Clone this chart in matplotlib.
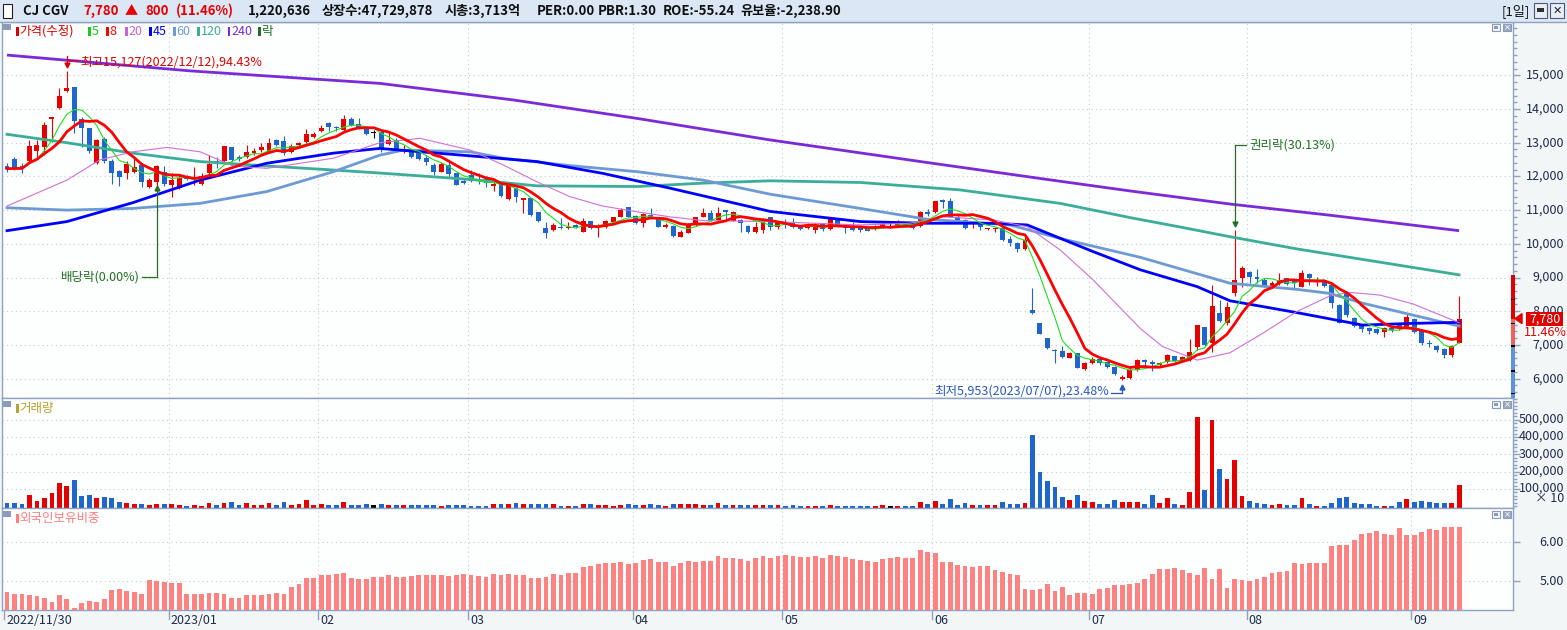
import numpy as np
import pandas as pd
import matplotlib
matplotlib.use("Agg")
import matplotlib.pyplot as plt
import matplotlib.transforms as mtransforms
from matplotlib.patches import Rectangle, Polygon
from matplotlib.ticker import MultipleLocator, FixedLocator

plt.rcParams['font.family'] = ['Noto Sans CJK KR', 'DejaVu Sans']

# ---------------- data ----------------
opens = [12320,12530,12320,12470,12760,12880,13700,14040,14520,14660,
         13700,13450,12410,13110,12470,12170,12090,12140,12340,11690,
         11840,12120,11740,11670,11990,11890,11770,12090,12470,12470,
         12860,12590,12570,12680,12780,12730,13080,13060,12730,12930,
         13030,13180,13360,13580,13460,13380,13710,13560,13460,13280,
         13330,12950,13080,12750,12730,12700,12540,12340,12140,12340,
         12090,11860,12040,11910,11920,11720,11790,11320,11650,11310,
         11350,10930,10460,10410,10500,10460,10560,10360,10680,10510,
         10490,10660,10810,11080,10830,10630,10860,10790,10510,10530,
         10210,10330,10560,10810,10900,10710,11000,10690,10710,10530,
         10360,10410,10790,10510,10610,10630,10530,10460,10410,10590,
         10430,10730,10510,10530,10510,10480,10430,10510,10610,10530,
         10610,10560,10530,10950,10930,11300,11280,10810,10710,10580,
         10610,10430,10430,10460,10140,10030,9840,8040,7640,7200,
         6850,6820,6620,6770,6280,6470,6570,6500,6360,6000,
         6010,6260,6550,6480,6400,6500,6670,6500,6550,6930,
         7520,7050,7960,7640,8550,8980,9170,9030,8930,8710,
         8830,8980,8880,8730,9100,8870,8930,8780,8180,8560,
         7790,7590,7490,7460,7390,7490,7590,7520,7770,7440,
         7070,6970,6880,6700,7070]
highs = [12390,12590,12410,13080,13080,13600,13760,14620,15127,14660,
         13750,13450,13100,13180,12510,12190,12460,12560,12410,11940,
         12340,12310,12090,12070,12040,12270,12090,12650,12590,12900,
         12880,12650,12930,12850,12980,13130,13110,13210,12960,13030,
         13400,13330,13530,13600,13510,13820,13750,13720,13500,13380,
         13380,13280,13130,12930,12780,12730,12640,12390,12440,12440,
         12110,11940,12190,12090,12010,11840,11840,11810,11680,11360,
         11370,10950,10660,10630,10760,10660,10580,10760,10680,10580,
         10710,10810,11050,11100,10860,10900,11070,10810,10630,10560,
         10410,10630,10810,11050,11000,11100,11000,10970,10730,10560,
         10640,10760,10810,10660,10730,10760,10560,10610,10610,10630,
         10760,10740,10560,10660,10530,10510,10560,10630,10680,10710,
         10630,10590,10970,11020,11280,11320,11350,10860,10730,10630,
         10630,10480,10510,10510,10230,10060,10210,8700,7640,7200,
         6870,6970,6800,6770,6500,6630,6620,6500,6380,6100,
         6310,6570,6570,6550,6500,6720,6670,6670,7180,7590,
         7540,8780,8330,8280,10410,9350,9200,9240,8980,8910,
         9140,9000,8980,9220,9120,9030,8950,8830,8210,8610,
         7820,7620,7540,7490,7540,7540,7640,7920,7790,7440,
         7150,6990,6900,7000,8460]
lows = [12120,12190,12110,12390,12590,12630,13030,13990,14500,13300,
        12880,12700,12370,12410,11770,11710,11910,12110,11690,11670,
        11690,11720,11400,11640,11890,11740,11740,12040,12240,12440,
        12470,12470,12540,12630,12730,12700,12900,12630,12700,12900,
        13000,13130,13310,13360,13360,13330,13500,13400,13230,13130,
        12730,12930,12710,12690,12560,12490,12340,12040,12120,11990,
        11740,11770,11840,11770,11680,11580,11380,11300,11250,10900,
        10820,10660,10160,10390,10440,10440,10460,10340,10440,10210,
        10470,10640,10790,10790,10590,10490,10760,10490,10460,10210,
        10190,10310,10530,10790,10690,10690,10710,10670,10360,10330,
        10330,10310,10410,10430,10460,10460,10410,10430,10310,10390,
        10410,10490,10310,10390,10360,10380,10410,10460,10510,10510,
        10530,10440,10510,10830,10910,11070,10790,10660,10430,10460,
        10410,10410,10360,10090,9950,9750,9820,7920,7310,6870,
        6470,6600,6600,6310,6260,6430,6400,6310,6110,5953,
        5980,6240,6360,6240,6340,6470,6500,6480,6530,6850,
        6970,6800,7690,7590,8460,8730,8850,8830,8710,8680,
        8780,8780,8680,8710,8780,8750,8710,8090,7640,7840,
        7540,7390,7320,7320,7230,7390,7440,7490,7340,7000,
        6950,6800,6600,6650,7050]
closes = [12230,12240,12240,12900,12930,13530,13750,14390,14620,13640,
          13430,12760,13080,12470,12090,11970,12370,12290,11840,11890,
          12310,11770,11890,11940,11910,11990,12010,12370,12410,12900,
          12490,12510,12720,12760,12860,12980,12930,12700,12900,13000,
          13260,13260,13450,13480,13430,13690,13530,13430,13260,13280,
          12830,13080,12730,12800,12590,12520,12440,12120,12360,12070,
          11740,11790,11870,11890,11810,11770,11420,11790,11400,11350,
          10850,10690,10330,10560,10460,10510,10490,10680,10460,10560,
          10680,10790,11000,10810,10610,10880,10790,10510,10560,10230,
          10360,10590,10810,10900,10710,10920,10930,10950,10630,10360,
          10510,10710,10510,10610,10580,10490,10430,10560,10510,10430,
          10730,10510,10470,10410,10410,10390,10530,10580,10610,10660,
          10560,10460,10950,10880,11270,11250,10810,10690,10460,10630,
          10510,10460,10460,10110,10010,9840,10110,7940,7310,6900,
          6820,6650,6770,6330,6470,6570,6470,6340,6140,6060,
          6260,6550,6480,6420,6470,6700,6520,6650,6800,7590,
          7000,8150,7720,8130,8930,9270,9010,8950,8730,8850,
          8930,8810,8850,9120,8980,8890,8750,8250,7660,7890,
          7560,7460,7420,7360,7490,7440,7490,7820,7370,7050,
          7030,6850,6700,6980,7780]

volume_x10 = [19000,19000,13000,65000,29000,48000,77000,134000,117000,152000,
              59000,65000,48000,54000,48000,25000,19000,13000,13000,7500,
              13000,13000,13000,7500,2000,7500,2000,19000,7500,19000,
              25000,7500,19000,7500,7500,19000,7500,25000,7500,13000,
              36000,7500,13000,7500,7500,25000,7500,7500,13000,7500,
              13000,7500,7500,7500,7500,7500,7500,7500,2000,7500,
              7500,7500,2000,2000,2000,13000,13000,13000,19000,13000,
              13000,13000,13000,13000,2000,2000,2000,13000,13000,7500,
              7500,2000,7500,13000,7500,7500,13000,7500,2000,13000,
              13000,13000,13000,7500,7500,19000,7500,7500,7500,7500,
              7500,7500,7500,7500,2000,7500,500,2000,2000,2000,
              7500,2000,2000,2000,2000,2000,2000,7500,2000,2000,
              2000,500,25000,13000,30600,13000,42000,7500,19000,7500,
              7500,7500,7500,25000,13000,13000,19000,411000,198000,146000,
              111000,54000,36000,65000,30600,25000,13000,13000,36000,25000,
              25000,25000,13000,65000,19000,48000,13000,7500,82000,515000,
              94000,498000,215000,157000,267000,59000,30600,19000,13000,7500,
              13000,7500,7500,48000,13000,2000,2000,19000,48000,54000,
              19000,13000,13000,2000,2000,2000,25000,42000,25000,30600,
              25000,19000,19000,19000,122064]

foreign_pct = [4.735,4.675,4.675,4.64,4.615,4.57,4.47,4.65,4.55,4.32,
               4.44,4.50,4.48,4.55,4.78,4.80,4.75,4.735,4.675,5.03,
               5.01,4.98,4.96,4.96,4.675,4.675,4.675,4.70,4.70,4.675,
               4.57,4.57,4.65,4.65,4.65,4.675,4.70,4.675,4.855,4.93,
               5.085,5.085,5.16,5.17,5.19,5.21,5.085,5.06,5.06,5.11,
               5.11,5.16,5.11,5.11,5.14,5.16,5.16,5.16,5.16,5.14,
               5.16,5.19,5.16,5.14,5.11,5.19,5.16,5.19,5.16,5.16,
               5.085,5.085,5.11,5.19,5.16,5.21,5.21,5.37,5.39,5.45,
               5.48,5.48,5.50,5.45,5.48,5.55,5.57,5.50,5.50,5.39,
               5.48,5.52,5.50,5.52,5.52,5.65,5.60,5.60,5.57,5.52,
               5.60,5.65,5.60,5.65,5.675,5.65,5.62,5.62,5.65,5.60,
               5.675,5.65,5.62,5.57,5.55,5.52,5.50,5.57,5.60,5.62,
               5.60,5.60,5.80,5.75,5.73,5.50,5.50,5.42,5.39,5.37,
               5.39,5.39,5.29,5.24,5.19,5.16,4.80,4.78,4.80,4.93,
               4.75,4.855,4.65,4.70,4.70,4.675,4.80,4.83,4.91,4.91,
               4.93,4.96,5.06,5.19,5.32,5.32,5.34,5.29,5.21,5.16,
               5.34,5.06,5.32,4.83,5.06,5.03,5.01,5.06,5.11,5.21,
               5.24,5.265,5.47,5.44,5.47,5.47,5.47,5.905,5.93,5.93,
               6.06,6.21,6.24,6.29,6.21,6.19,6.37,6.19,6.19,6.265,
               6.34,6.32,6.39,6.39,6.39]

# moving averages that need history before the window: read at sample points
ma20_idx = [0,8,12.4,16.8,21.4,25.8,30.2,34.7,43.6,49.8,55.2,61.9,66.3,70.8,75.2,79.6,84.2,88.6,93,102,
            114,120.6,125,131.7,136.3,140.7,145.1,151.4,154.4,159,163.4,167.8,172.3,176.7,179.3,183.4,187.8,194]
ma20_val = [11120,11890,12490,12730,12860,12730,12310,12240,12540,13000,13130,12780,12340,11840,11400,11120,10950,10800,10690,10660,
            10560,10610,10800,10710,10510,9820,8930,7490,6950,6550,6770,7350,7990,8450,8560,8480,8220,7660]
ma45_idx = [0,8,16.8,25.8,34.7,43.6,49.8,61.9,70.8,79.6,88.6,102,114,122.9,131.7,136.3,145.1,151.4,159,163.4,172.3,181.1,187.8,194]
ma45_val = [10390,10660,11220,11890,12390,12690,12830,12610,12440,12090,11650,10960,10660,10610,10610,10560,9770,9230,8730,8310,7960,7590,7640,7670]
ma60_idx = [0,8,16.8,25.8,34.7,43.6,49.8,52.9,61.9,66.3,75.2,84.2,93,102,114,122.9,134,140.7,151.4,163.4,172.3,176.7,181.1,194]
ma60_val = [11070,11000,11050,11200,11550,12140,12630,12780,12730,12540,12320,12140,11890,11470,11050,10730,10560,10160,9600,8830,8650,8530,8240,7560]
ma120_idx = [0,8,16.8,25.8,34.7,43.6,49.8,61.9,70.8,84.2,93,102,114,127.3,140.7,150,156.7,163.4,172.3,194]
ma120_val = [13250,13000,12690,12440,12310,12190,12100,11910,11720,11700,11800,11870,11820,11600,11200,10780,10500,10210,9850,9080]
ma240_idx = [0,24.5,49.8,67.6,84.2,102,123,139.6,150,163.4,176.7,194]
ma240_val = [15600,15130,14760,14270,13720,13080,12410,11890,11570,11180,10850,10390]

month_start_idx = [0, 22, 42, 62, 84, 104, 124, 145, 166, 188]
month_labels = ['2022/11/30', '2023/01', '02', '03', '04', '05', '06', '07', '08', '09']

price_ticks = [6000, 7000, 8000, 9000, 10000, 11000, 12000, 13000, 14000, 15000]
volume_ticks = [100000, 200000, 300000, 400000, 500000]
foreign_ticks = [5.0, 6.0]

prev_close = closes[-2]
last_close = closes[-1]
upper_limit = 9074

# ---------------- styling ----------------
W, H = 1567, 630
RED = '#e60000'
BLUE = '#1f66cc'
AXC = '#8ea2c2'
TXT = '#1e2b4e'
GRID = '#c3cbd4'

fig = plt.figure(figsize=(W / 100, H / 100), dpi=100, facecolor='#f3f6f6')

def fbox(x0, y0, x1, y1):
    return [x0 / W, 1 - y1 / H, (x1 - x0) / W, (y1 - y0) / H]

ax_p = fig.add_axes(fbox(2, 22, 1513, 398))
ax_v = fig.add_axes(fbox(2, 398, 1513, 508))
ax_f = fig.add_axes(fbox(2, 508, 1513, 610))

n = len(closes)
x = np.arange(n)
O = np.array(opens, float); Hh = np.array(highs, float)
Lw = np.array(lows, float); C = np.array(closes, float)
cols = np.where(C > O, RED, np.where(C < O, BLUE, '#000000'))

XL = (-0.668, 201.2)
for ax in (ax_p, ax_v, ax_f):
    ax.set_facecolor('#fdfefe')
    ax.set_xlim(*XL)
    ax.set_xticks([])
    for s in ax.spines.values():
        s.set_color(AXC)
        s.set_linewidth(1.0)
    ax.yaxis.set_ticks_position('right')
    ax.tick_params(axis='y', which='both', direction='out', colors=AXC,
                   labelright=False, labelleft=False)
    ax.tick_params(axis='y', which='major', length=5, width=1)
    ax.tick_params(axis='y', which='minor', length=3, width=1)
    for m in month_start_idx[1:]:
        ax.axvline(m - 0.4, color=GRID, lw=0.8, ls=(0, (1, 3)), zorder=0)

P_LIM = (5426, 16581)
V_LIM = (-9800, 625000)
F_LIM = (4.264, 6.879)
ax_p.set_ylim(*P_LIM)
ax_v.set_ylim(*V_LIM)
ax_f.set_ylim(*F_LIM)

ax_p.yaxis.set_major_locator(FixedLocator(price_ticks))
ax_p.yaxis.set_minor_locator(MultipleLocator(200))
ax_v.yaxis.set_major_locator(FixedLocator(volume_ticks))
ax_v.yaxis.set_minor_locator(MultipleLocator(20000))
ax_f.yaxis.set_major_locator(FixedLocator(foreign_ticks))
ax_f.yaxis.set_minor_locator(FixedLocator([]))
for ax in (ax_p, ax_v, ax_f):
    ax.grid(axis='y', which='major', color=GRID, lw=0.8, ls=(0, (1, 3)), zorder=0)

# ---------------- candles ----------------
ax_p.vlines(x, Lw, Hh, colors=cols, lw=0.8, zorder=2)
body_lo = np.minimum(O, C)
body_h = np.maximum(np.abs(C - O), 35)
ax_p.bar(x, body_h, bottom=body_lo, width=0.66, color=cols, lw=0, zorder=3)

# moving averages
ma5 = pd.Series(C).rolling(5, min_periods=1).mean()
ma8 = pd.Series(C).rolling(8, min_periods=1).mean()
ax_p.plot(ma240_idx, ma240_val, color='#7a2ad6', lw=2.0, zorder=4, solid_capstyle='butt')
ax_p.plot(ma120_idx, ma120_val, color='#3aae98', lw=2.0, zorder=4)
ax_p.plot(ma60_idx, ma60_val, color='#6e9ad4', lw=2.0, zorder=4)
ax_p.plot(ma45_idx, ma45_val, color='#0000ff', lw=2.0, zorder=5)
ax_p.plot(ma20_idx, ma20_val, color='#d070d8', lw=0.8, zorder=5)
ax_p.plot(x, ma5, color='#1ee01e', lw=0.8, zorder=6)
ax_p.plot(x, ma8, color='#ff0000', lw=2.0, zorder=6)

# ---------------- volume / foreign ----------------
ax_v.bar(x, np.array(volume_x10) - V_LIM[0], bottom=V_LIM[0], width=0.64, color=cols, lw=0, zorder=3)
ax_f.bar(x, np.array(foreign_pct) - F_LIM[0], bottom=F_LIM[0], width=0.64, color='#ff8282', lw=0, zorder=3)

# ---------------- helpers ----------------
def anchor(ax, xi, yv, dx=0, dy=0):
    X, Y = ax.transData.transform((xi, yv))
    return ax.transData.inverted().transform((X + dx, Y - dy))

def ftext(xp, yp, s, **kw):
    return fig.text(xp / W, 1 - yp / H, s, **kw)

def frect(x0, y0, x1, y1, **kw):
    r = Rectangle((x0 / W, 1 - y1 / H), (x1 - x0) / W, (y1 - y0) / H,
                  transform=fig.transFigure, **kw)
    fig.add_artist(r)
    return r

def line_seg(ax, p0, p1, color):
    ax.plot([p0[0], p1[0]], [p0[1], p1[1]], color=color, lw=0.9, zorder=8, clip_on=False)

# annotations
ANN = 9
c_hi = '#e00000'
i_hi = int(np.argmax(Hh))
b = (i_hi, Hh[i_hi])
tip = anchor(ax_p, *b, 0, -6); top = anchor(ax_p, *b, 0, -15)
line_seg(ax_p, tip, top, c_hi)
ax_p.plot([tip[0]], [tip[1]], marker='v', ms=3.5, color=c_hi, zorder=8)
h0 = anchor(ax_p, *b, 0, -11); h1 = anchor(ax_p, *b, 11, -11)
line_seg(ax_p, h0, h1, c_hi)
tp = anchor(ax_p, *b, 13, -9)
ax_p.text(tp[0], tp[1], '최고15,127(2022/12/12),94.43%', color=c_hi, fontsize=ANN,
          ha='left', va='center', zorder=9)

c_g = '#237023'
i_div = 20
b = (i_div, Lw[i_div])
tip = anchor(ax_p, *b, 0, 1); bot = anchor(ax_p, *b, 0, 90.5)
line_seg(ax_p, tip, bot, c_g)
ax_p.plot([tip[0]], [tip[1]], marker='^', ms=3.5, color=c_g, zorder=8)
h1 = anchor(ax_p, *b, -15, 90.5)
line_seg(ax_p, bot, h1, c_g)
tp = anchor(ax_p, *b, -17, 90.5)
ax_p.text(tp[0], tp[1], '배당락(0.00%)', color=c_g, fontsize=ANN, ha='right', va='center', zorder=9)

i_rt = 164
b = (i_rt, Hh[i_rt])
tip = anchor(ax_p, *b, 0, -6); top = anchor(ax_p, *b, 0, -85)
line_seg(ax_p, tip, top, c_g)
ax_p.plot([tip[0]], [tip[1]], marker='v', ms=3.5, color=c_g, zorder=8)
h1 = anchor(ax_p, *b, 11, -85)
line_seg(ax_p, top, h1, c_g)
tp = anchor(ax_p, *b, 15, -85)
ax_p.text(tp[0], tp[1], '권리락(30.13%)', color=c_g, fontsize=ANN, ha='left', va='center', zorder=9)

c_lo = '#2a58c0'
i_lo = int(np.argmin(Lw))
b = (i_lo, Lw[i_lo])
tip = anchor(ax_p, *b, 0, 7); bot = anchor(ax_p, *b, 0, 13)
line_seg(ax_p, tip, bot, c_lo)
ax_p.plot([tip[0]], [tip[1]], marker='^', ms=3.5, color=c_lo, zorder=8)
h1 = anchor(ax_p, *b, -11, 13)
line_seg(ax_p, bot, h1, c_lo)
tp = anchor(ax_p, *b, -13, 10.5)
ax_p.text(tp[0], tp[1], '최저5,953(2023/07/07),23.48%', color=c_lo, fontsize=ANN,
          ha='right', va='center', zorder=9)

# ---------------- right axis labels ----------------
AXF = 9
def ylabel_px(ax, v):
    return H - ax.transData.transform((0, v))[1]

for v in price_ticks:
    ftext(1564, ylabel_px(ax_p, v), f'{v:,}', ha='right', va='center', fontsize=AXF, color=TXT)
for v in volume_ticks:
    ftext(1564, ylabel_px(ax_v, v) - 0.5, f'{v:,}', ha='right', va='center', fontsize=AXF, color=TXT)
ftext(1564, 499, '× 10', ha='right', va='center', fontsize=AXF, color=TXT)
for v in foreign_ticks:
    ftext(1564, ylabel_px(ax_f, v), f'{v:.2f}', ha='right', va='center', fontsize=AXF, color=TXT)

# range bar on price axis
def axis_band(v0, v1, color):
    y0 = ylabel_px(ax_p, max(v0, v1)); y1 = ylabel_px(ax_p, min(v0, v1))
    frect(1511, y0, 1515, y1, color=color, lw=0, zorder=10)

axis_band(upper_limit, last_close, '#e00000')
axis_band(last_close, prev_close, '#f06262')
axis_band(prev_close, P_LIM[0], '#5f92dd')
for v in [8346, 7634, 6970, 6228, 5558]:
    yy = ylabel_px(ax_p, v)
    frect(1511, yy - 0.5, 1515, yy + 0.6, color='#000000', lw=0, zorder=11)

# current price tag
yc = ylabel_px(ax_p, last_close)
fig.add_artist(Polygon([[1515 / W, 1 - yc / H], [1522 / W, 1 - (yc - 5) / H], [1522 / W, 1 - (yc + 5) / H]],
                       closed=True, transform=fig.transFigure, color='#e00000', zorder=10))
frect(1526, yc - 7, 1563, yc + 7, color='#e00000', lw=0, zorder=10)
ftext(1545, yc, f'{last_close:,}', ha='center', va='center', fontsize=AXF, color='white', zorder=11)
frect(1526, yc + 7, 1563, yc + 20, color='white', lw=0, zorder=10)
ftext(1545, yc + 13.5, '11.46%', ha='center', va='center', fontsize=AXF, color='#e00000', zorder=11)

# ---------------- x axis labels ----------------
for m, lab in zip(month_start_idx, month_labels):
    xp = ax_f.transData.transform((m - 0.4, 0))[0]
    fig.add_artist(plt.Line2D([xp / W, xp / W], [1 - 611 / H, 1 - 619 / H],
                              transform=fig.transFigure, color=AXC, lw=1))
    ftext(xp + 2, 621, lab, ha='left', va='center', fontsize=AXF, color=TXT)

# ---------------- header ----------------
frect(0, 0, W, 22, facecolor='#dce7f6', edgecolor='none', zorder=1)
fig.add_artist(plt.Line2D([0, 1], [1 - 21.5 / H, 1 - 21.5 / H], transform=fig.transFigure, color=AXC, lw=1))
frect(3, 4, 12, 18, facecolor='white', edgecolor='#202020', lw=0.8, zorder=2)
HF = dict(fontsize=9.5, fontweight='bold', va='center')
ftext(23, 11, 'CJ CGV', color='#101010', **HF)
ftext(83, 11, '7,780', color=RED, **HF)
ftext(125, 11, '▲', color=RED, **HF)
ftext(145, 11, '800', color=RED, **HF)
ftext(176, 11, '(11.46%)', color=RED, **HF)
ftext(248, 11, '1,220,636', color='#101010', **HF)
ftext(322, 11, '상장수:47,729,878', color='#101010', **HF)
ftext(445, 11, '시총:3,713억', color='#101010', **HF)
ftext(537, 11, 'PER:0.00', color='#101010', **HF)
ftext(598, 11, 'PBR:1.30', color='#101010', **HF)
ftext(663, 11, 'ROE:-55.24', color='#101010', **HF)
ftext(740, 11, '유보율:-2,238.90', color='#101010', **HF)
ftext(1502, 11, '[1일]', color='#101010', fontsize=9.5, va='center')
frect(1534, 3, 1547, 18, facecolor='#e8eef8', edgecolor='#505a70', lw=0.8, zorder=2)
frect(1537, 8, 1544, 12, facecolor='#303030', edgecolor='none', zorder=3)
frect(1550, 3, 1564, 18, facecolor='#e8eef8', edgecolor='#505a70', lw=0.8, zorder=2)
ftext(1557, 10.5, '✕', ha='center', va='center', fontsize=8, fontweight='bold', color='#202020',
      family=['DejaVu Sans'])

# panel legend rows
def panel_icons(ytop):
    frect(3, ytop, 11, ytop + 6, facecolor='#8c9cb8', edgecolor='none', zorder=3)
    frect(1492, ytop, 1500, ytop + 7, facecolor='#f4f6fa', edgecolor='#8c9cb8', lw=0.8, zorder=3)
    frect(1494, ytop + 2, 1498, ytop + 5, facecolor='#8c9cb8', edgecolor='none', zorder=4)
    frect(1503, ytop, 1511, ytop + 7, facecolor='#9aa8c0', edgecolor='#8c9cb8', lw=0.8, zorder=3)
    ftext(1507, ytop + 3.5, '×', ha='center', va='center', fontsize=6, color='white', family=['DejaVu Sans'])

panel_icons(24)
panel_icons(401)
panel_icons(511)

LEG = [(16, '가격(수정)', '#e00000'), (88, '5', '#1ec81e'), (106, '8', '#ff0000'),
       (125, '20', '#c864d2'), (149, '45', '#0000ff'), (173, '60', '#6e9ad4'),
       (197, '120', '#3aae98'), (228, '240', '#7a2ad6'), (258, '락', '#237023')]
for xp, lab, c in LEG:
    frect(xp, 27, xp + 2.5, 36, color=c, lw=0, zorder=3)
    ftext(xp + 3.5, 31.5, lab, ha='left', va='center', fontsize=9, color=c)

frect(16, 404, 18.5, 413, color='#b8a230', lw=0, zorder=3)
ftext(19.5, 408.5, '거래량', ha='left', va='center', fontsize=9, color='#b8a230')
frect(16, 514, 18.5, 523, color='#ff7e7e', lw=0, zorder=3)
ftext(19.5, 518.5, '외국인보유비중', ha='left', va='center', fontsize=9, color='#ff7e7e')

fig.savefig('out.png', dpi=100, facecolor=fig.get_facecolor())
